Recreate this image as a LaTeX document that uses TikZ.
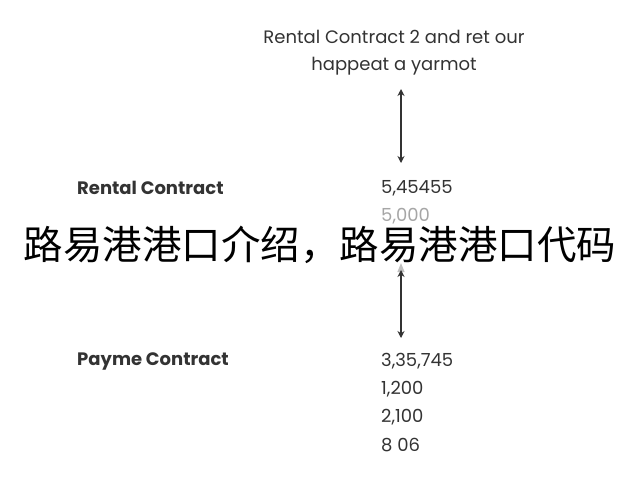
\documentclass[tikz,border=0pt]{standalone}
\usepackage{fontspec}
\setmainfont{Poppins}
\newfontfamily\cjk{Noto Sans CJK SC}
\usetikzlibrary{arrows.meta,shapes.geometric}
\definecolor{txt}{HTML}{333333}
\begin{document}
\begin{tikzpicture}[x=1pt,y=-1pt,
  lbl/.style={anchor=west,font=\fontsize{18}{20}\selectfont\bfseries,text=txt,inner sep=0},
  num/.style={anchor=west,font=\fontsize{18}{20}\selectfont,text=txt,inner sep=0},
  arr/.style={{Stealth[length=7pt,width=7pt]}-{Stealth[length=7pt,width=7pt]},line width=1.4pt,draw=txt}]
\useasboundingbox[fill=white] (0,0) rectangle (640,480);
\node[font=\fontsize{18}{27}\selectfont,text=txt,align=center] (top) at (394,53) {Rental Contract 2 and ret our\\happeat a yarmot};
\coordinate (a1) at (401,89); \coordinate (a2) at (401,163);
\draw[arr] (a1) -- (a2);
\node[lbl] (rc) at (77,188) {Rental Contract};
\node[num] (n1) at (381,188) {5,45455};
\node[num,text=black!35] (n2) at (381,216) {5,000};
\node[font=\cjk\fontsize{39.5}{45}\selectfont,text=black] (cn) at (320,245) {路易港港口介绍，路易港港口代码};
\node[fill=black!25,isosceles triangle,shape border rotate=90,minimum size=0pt,inner sep=2pt] (g) at (401,270) {};
\coordinate (b1) at (401,270); \coordinate (b2) at (401,338);
\draw[arr] (b1) -- (b2);
\node[lbl] (pc) at (77,361) {Payme Contract};
\node[num] (m1) at (381,361) {3,35,745};
\node[num] (m2) at (381,389) {1,200};
\node[num] (m3) at (381,417) {2,100};
\node[num] (m4) at (381,445) {8 06};
\end{tikzpicture}
\end{document}
